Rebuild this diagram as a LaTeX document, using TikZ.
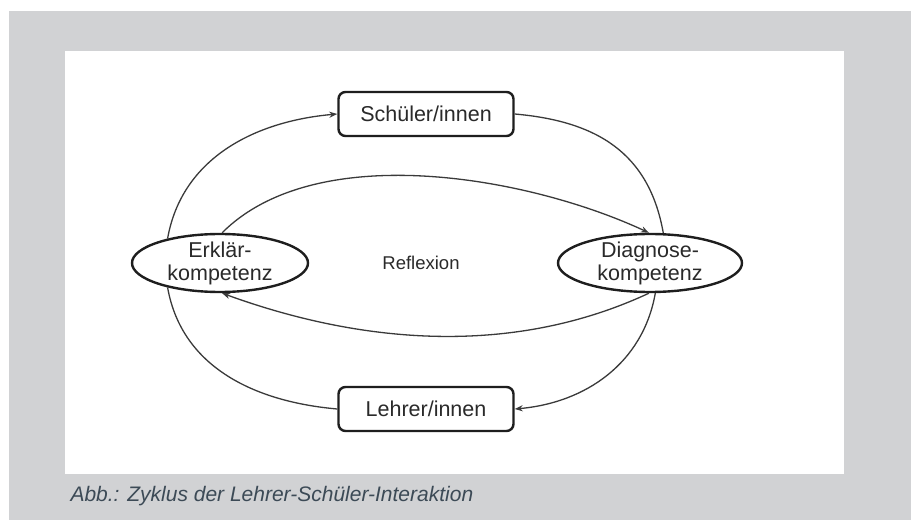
\documentclass[tikz,border=0pt]{standalone}
\usepackage{fontspec}
\setmainfont{Liberation Sans}
\usetikzlibrary{arrows.meta,shapes.geometric}
\definecolor{zkInk}{HTML}{1E1E1E}
\definecolor{zkText}{HTML}{2A2A2A}
\definecolor{zkLine}{HTML}{3A3A3A}
\definecolor{zkFrame}{HTML}{D1D2D4}
\definecolor{zkCaption}{HTML}{3C4A56}
\tikzset{
  zk role/.style={
    draw=zkInk,
    line width=2.4pt,
    rounded corners=7pt,
    minimum width=175pt,
    minimum height=44pt,
    inner sep=0pt,
    font=\fontsize{21.5}{23}\selectfont,
    text=zkText
  },
  zk skill/.style={
    ellipse,
    draw=zkInk,
    line width=2.4pt,
    minimum width=176pt,
    minimum height=58pt,
    inner xsep=0pt,
    inner ysep=-2pt,
    align=center,
    font=\fontsize{21.5}{23}\selectfont,
    text=zkText
  },
  zk arc/.style={draw=zkLine, line width=1.3pt},
  zk arrow/.style={zk arc, -{Stealth[length=8pt,width=6pt]}},
  zk label/.style={font=\fontsize{18.5}{20}\selectfont, text=zkText},
  zk caption/.style={font=\itshape\fontsize{21}{24}\selectfont, text=zkCaption, anchor=base west}
}

\begin{document}
\begin{tikzpicture}[x=1pt,y=1pt]
  \path[fill=white] (0,0) rectangle (913,520);
  \path[fill=zkFrame] (9,0) rectangle (911,509);
  \path[fill=white] (65,46) rectangle (844,469);

  \node[zk role] (schueler) at (426,406) {Schüler/innen};
  \node[zk role] (lehrer) at (426,111) {Lehrer/innen};
  \node[zk skill] (erklaer) at (220,257) {Erklär-\\kompetenz};
  \node[zk skill, minimum width=184pt] (diagnose) at (650,257) {Diagnose-\\kompetenz};
  \node[zk label] (reflexion) at (421,257) {Reflexion};
  \node[zk caption] (caption) at (67,19) {Abb.: Zyklus der Lehrer-Schüler-Interaktion};

  % outer cycle
  \draw[zk arrow] (erklaer.155) to[out=80, in=185] (schueler.west);
  \draw[zk arc] (schueler.east) to[out=-5, in=100, looseness=1.1] (diagnose.66);
  \draw[zk arrow] (diagnose.-80) to[out=-100, in=5] (lehrer.east);
  \draw[zk arc] (lehrer.west) to[out=175, in=-80] (erklaer.205);

  % reflexion loop
  \draw[zk arrow] (erklaer.86) to[out=45, in=155, looseness=.8] (diagnose.92);
  \draw[zk arrow] (diagnose.-92) to[out=205, in=-20, looseness=.9] (erklaer.-86);
\end{tikzpicture}
\end{document}
